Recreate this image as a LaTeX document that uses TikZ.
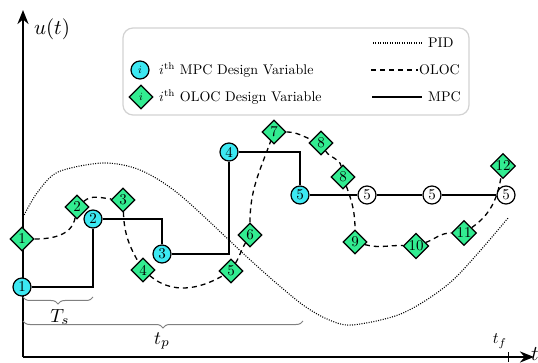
\documentclass[tikz,border=0pt]{standalone}
\usepackage{graphicx}
\usetikzlibrary{shapes.geometric,arrows.meta,decorations.pathreplacing,calc}
\definecolor{mpcfill}{RGB}{60,232,242}
\definecolor{olocfill}{RGB}{50,236,145}
\newcommand{\nn}[1]{\scalebox{1.5}{#1}}
\newcommand{\lt}[1]{\scalebox{1.4}{#1}}
\begin{document}
\begin{tikzpicture}[x=1pt,y=-1pt,
 mpc/.style={circle,draw,line width=1.2pt,fill=mpcfill,minimum size=18pt,inner sep=0pt},
 mpcw/.style={mpc,fill=white},
 oloc/.style={diamond,draw,line width=1.2pt,fill=olocfill,minimum size=24pt,inner sep=0pt,aspect=1},
 mpcline/.style={line width=1.3pt},
 olocline/.style={line width=1.3pt,dash pattern=on 5pt off 4pt},
 pidline/.style={line width=1.1pt,dash pattern=on 1pt off 1.4pt},
 axisline/.style={line width=2.3pt,-{Stealth[length=14pt,width=11pt]}},
 brc/.style={draw=gray,line width=1pt,decorate,decoration={brace,amplitude=7pt,mirror}},
 lbl/.style={inner sep=2pt}
]
\useasboundingbox (0,0) rectangle (538,363);
% legend
\node[draw=gray!35,line width=1.2pt,rounded corners=10pt,minimum width=346pt,minimum height=87pt] (legend) at (296,71.5) {};
% axes
\coordinate (O) at (23,357);
\coordinate (ytop) at (23,10);
\coordinate (xend) at (534,357);
\draw[axisline] (O) -- (ytop);
\draw[axisline] (O) -- (xend);
\node (ulab) at (52,29) {\scalebox{2.1}{$u(t)$}};
\node[anchor=west,inner sep=0pt] (tlab) at (531,354) {\scalebox{2.1}{$t$}};
\coordinate (tfa) at (508,352);
\coordinate (tfb) at (508,362);
\draw[line width=1pt] (tfa) -- (tfb);
\node (tflab) at (500,341) {\scalebox{1.6}{$t_f$}};
% PID
\draw[pidline] plot[smooth] coordinates {(23,217) (37,193) (58,172) (103,163) (140,170) (180,195) (247,257) (275,282) (303,305) (327,319) (352,325) (403,313) (453,280) (508,218)};
% braces
\coordinate (b1a) at (23,297);
\coordinate (b1b) at (93,297);
\coordinate (b2a) at (23,321);
\coordinate (b2b) at (303,321);
\draw[brc] (b1a) -- (b1b);
\draw[brc] (b2a) -- (b2b);
\node (Ts) at (60,317) {\scalebox{1.9}{$T_s$}};
\node (tp) at (162,341) {\scalebox{1.9}{$t_p$}};
% MPC nodes
\node[mpc] (m1) at (22,287) {\nn{1}};
\node[mpc] (m2) at (93,219) {\nn{2}};
\node[mpc] (m3) at (162,254) {\nn{3}};
\node[mpc] (m4) at (229,152) {\nn{4}};
\node[mpc] (m5) at (300,195) {\nn{5}};
\node[mpcw] (w1) at (367,195) {\nn{5}};
\node[mpcw] (w2) at (432,195) {\nn{5}};
\node[mpcw] (w3) at (506,195) {\nn{5}};
% OLOC nodes
\node[oloc] (d1) at (22,239) {\nn{1}};
\node[oloc] (d2) at (77,207) {\nn{2}};
\node[oloc] (d3) at (123,200) {\nn{3}};
\node[oloc] (d4) at (143,270) {\nn{4}};
\node[oloc] (d5) at (231,271) {\nn{5}};
\node[oloc] (d6) at (250,235) {\nn{6}};
\node[oloc] (d7) at (274,132) {\nn{7}};
\node[oloc] (d8a) at (321,143) {\nn{8}};
\node[oloc] (d8b) at (343,177) {\nn{8}};
\node[oloc] (d9) at (355,242) {\nn{9}};
\node[oloc] (d10) at (416,246) {\nn{10}};
\node[oloc] (d11) at (464,233) {\nn{11}};
\node[oloc] (d12) at (503,166) {\nn{12}};
% MPC line
\draw[mpcline] (m1) -| (m2);
\draw[mpcline] (m2) -| (m3);
\draw[mpcline] (m3) -| (m4);
\draw[mpcline] (m4) -| (m5);
\draw[mpcline] (m5) -- (w1);
\draw[mpcline] (w1) -- (w2);
\draw[mpcline] (w2) -- (w3);
\draw[line width=2.4pt] ($(m5)!0.38!(w1)$) -- ($(m5)!0.68!(w1)$);
\draw[line width=2.4pt] ($(w1)!0.38!(w2)$) -- ($(w1)!0.68!(w2)$);
% OLOC line
\draw[olocline] (d1) to[out=0,in=-100] (d2);
\draw[olocline] (d2) to[out=40,in=175] (d3);
\draw[olocline] (d3) to[out=-88,in=120] (d4);
\draw[olocline] (d4) to[out=-40,in=210] (d5);
\draw[olocline] (d5) to[out=60,in=-120] (d6);
\draw[olocline] (d6) to[out=90,in=-110] (d7);
\draw[olocline] (d7) to[out=0,in=160] (d8a);
\draw[olocline] (d8a) to[out=-60,in=100] (d8b);
\draw[olocline] (d8b) to[out=-70,in=90] (d9);
\draw[olocline] (d9) to[out=-15,in=178] (d10);
\draw[olocline] (d10) to[out=20,in=180] (d11);
\draw[olocline] (d11) to[out=35,in=-100] (d12);
% legend entries
\node[mpc] (li1) at (140,70) {\scalebox{1.1}{$i$}};
\node[oloc] (li2) at (141,97) {\scalebox{1.1}{$i$}};
\node[lbl,anchor=west] (lt1) at (157,70) {\lt{$i^{\mathrm{th}}$ MPC Design Variable}};
\node[lbl,anchor=west] (lt2) at (157,97) {\lt{$i^{\mathrm{th}}$ OLOC Design Variable}};
\coordinate (pa) at (373,43);
\coordinate (pb) at (423,43);
\coordinate (oa) at (371,70);
\coordinate (ob) at (418,70);
\coordinate (sa) at (372,97);
\coordinate (sb) at (422,97);
\draw[pidline] (pa) -- (pb);
\draw[olocline] (oa) -- (ob);
\draw[mpcline] (sa) -- (sb);
\node[lbl,anchor=west] (lp) at (426,43) {\lt{PID}};
\node[lbl,anchor=west] (lo) at (417,70) {\lt{OLOC}};
\node[lbl,anchor=west] (lm) at (426,97) {\lt{MPC}};
\end{tikzpicture}
\end{document}
